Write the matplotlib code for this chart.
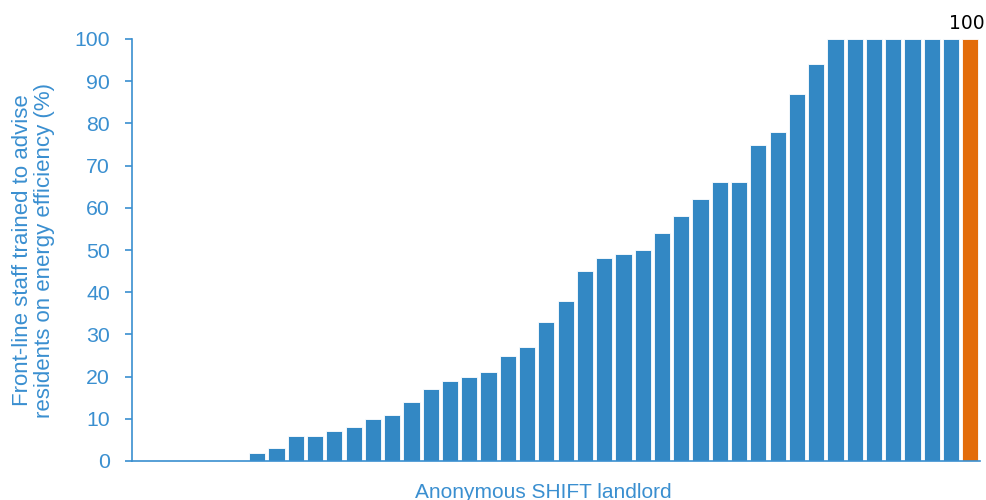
import numpy as np
import matplotlib
matplotlib.use('Agg')
import matplotlib.pyplot as plt

# share of front-line staff trained (%), one bar per anonymous landlord, sorted
values = [0, 0, 0, 0, 0, 0,
          2, 3, 6, 6, 7, 8, 10, 11, 14, 17,
          19, 20, 21, 25, 27, 33, 38, 45, 48, 49,
          50, 54, 58, 62, 66, 66, 75, 78, 87, 94,
          100, 100, 100, 100, 100, 100, 100, 100]
highlight = 43   # index of the landlord picked out in orange
yticks = [0, 10, 20, 30, 40, 50, 60, 70, 80, 90, 100]

blue = '#3388c4'
orange = '#e36c0a'
axcol = '#3a8fd0'

plt.rcParams['font.family'] = ['Liberation Sans', 'DejaVu Sans']

fig = plt.figure(figsize=[9.87, 5.0], dpi=100)
ax = fig.add_axes([132/987, 39/500, 848/987, 422/500])

x = np.arange(len(values))
cols = [orange if i == highlight else blue for i in x]
ax.bar(x, values, width=0.84, color=cols, edgecolor='white', linewidth=0.6)

ax.text(x[highlight] - 0.2, values[highlight] + 1.5, str(values[highlight]),
        ha='center', va='bottom', fontsize=13.5, color='black', family='DejaVu Sans')

ax.set_xlim(-0.5, len(values) - 0.5)
ax.set_ylim(0, 100)
ax.set_yticks(yticks)
ax.set_xticks([])
ax.tick_params(axis='y', colors=axcol, labelsize=15.3, length=5, width=1.2, pad=11)

for s in ['top', 'right']:
    ax.spines[s].set_visible(False)
ax.spines['left'].set_color(axcol)
ax.spines['bottom'].set_color(axcol)
ax.spines['left'].set_linewidth(1.2)
ax.spines['bottom'].set_linewidth(1.2)

ax.set_ylabel('Front-line staff trained to advise\nresidents on energy efficiency (%)',
              color=axcol, fontsize=16, linespacing=1.05, labelpad=14)
ax.set_xlabel('Anonymous SHIFT landlord', color=axcol, fontsize=15)
ax.xaxis.set_label_coords(0.485, -0.052)

fig.savefig('out.png', dpi=100)
